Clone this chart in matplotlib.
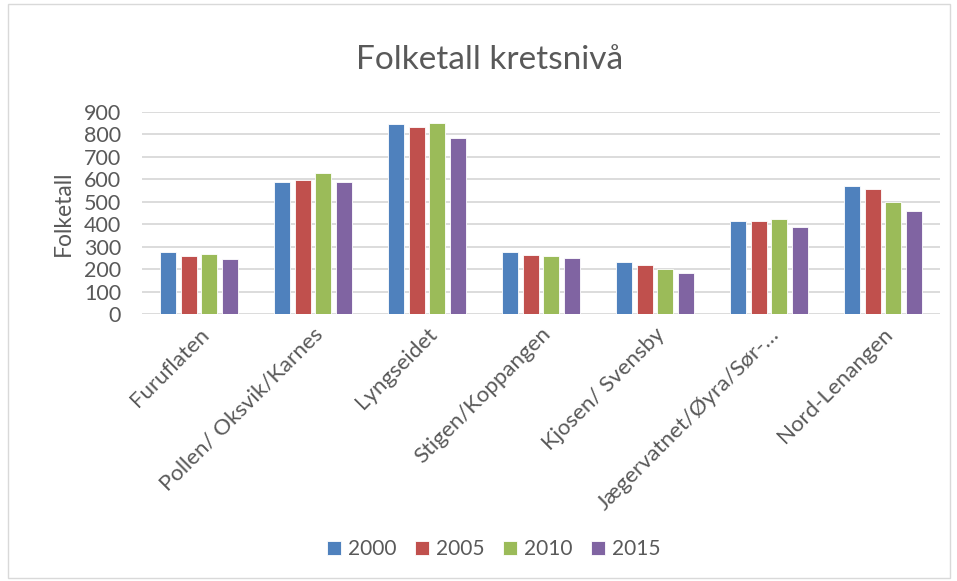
import numpy as np
import matplotlib.pyplot as plt
from matplotlib.patches import Rectangle

plt.rcParams['font.family'] = ['Lato', 'DejaVu Sans']

categories = ["Furuflaten", "Pollen/ Oksvik/Karnes", "Lyngseidet", "Stigen/Koppangen",
              "Kjosen/ Svensby", "Jægervatnet/Øyra/Sør-…", "Nord-Lenangen"]
years = ["2000", "2005", "2010", "2015"]
v2000 = [275, 588, 845, 277, 231, 413, 571]
v2005 = [258, 597, 830, 262, 219, 413, 555]
v2010 = [269, 628, 847, 260, 201, 423, 499]
v2015 = [247, 588, 783, 250, 182, 389, 457]
colors = ['#4F81BD', '#C0504D', '#9BBB59', '#8064A2']

fig = plt.figure(figsize=(9.57, 5.81), dpi=100)
ax = fig.add_axes([0.1484, 0.459, 0.8336, 0.349])

x = np.arange(len(categories))
step = 0.18
width = 0.14
for i, (vals, yr) in enumerate(zip([v2000, v2005, v2010, v2015], years)):
    ax.bar(x + (i - 1.5) * step, vals, width, color=colors[i], label=yr,
           edgecolor='white', linewidth=0.6, zorder=3)

ax.set_xlim(-0.5, len(categories) - 0.5)
ax.set_ylim(0, 900)
ax.set_yticks(range(0, 901, 100))
ax.yaxis.grid(True, color='#D9D9D9', linewidth=1.3, zorder=0)
for s in ax.spines.values():
    s.set_visible(False)
ax.tick_params(axis='both', length=0, labelsize=15.5, colors='#595959')
ax.tick_params(axis='y', pad=15)
ax.tick_params(axis='x', pad=7)
ax.set_xticks(x)
ax.set_xticklabels(categories, rotation=45, ha='right', va='top', rotation_mode='anchor',
                   fontsize=16)
ax.set_ylabel("Folketall", fontsize=16.5, color='#595959', labelpad=7)

fig.text(490 / 957, 1 - 60 / 581, "Folketall kretsnivå", fontsize=24, color='#595959',
         ha='center', va='center')

ax.legend(loc='center', bbox_to_anchor=(494 / 957, 1 - 549 / 581), bbox_transform=fig.transFigure,
          ncol=4, frameon=False, fontsize=15, labelcolor='#595959', handlelength=0.65,
          handleheight=0.65, handletextpad=0.35, columnspacing=0.9)

fig.patches.append(Rectangle((8 / 957, 3 / 581), 942 / 957, 574 / 581, transform=fig.transFigure,
                             fill=False, edgecolor='#D9D9D9', linewidth=1))

fig.savefig("out.png", dpi=100)
